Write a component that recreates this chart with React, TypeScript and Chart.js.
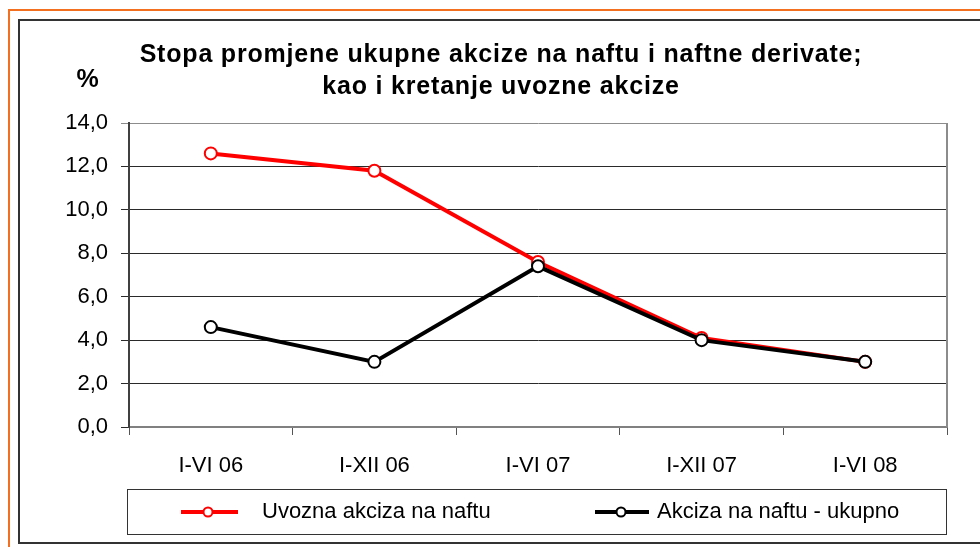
import React, { useEffect, useRef } from 'react';
import { Chart, registerables } from 'chart.js';

Chart.register(...registerables);

const categories = ['I-VI 06', 'I-XII 06', 'I-VI 07', 'I-XII 07', 'I-VI 08'];
const uvoznaAkciza = [12.6, 11.8, 7.6, 4.1, 3.0];
const akcizaUkupno = [4.6, 3.0, 7.4, 4.0, 3.0];
const seriesNames = ['Uvozna akciza na naftu', 'Akciza na naftu - ukupno'];
const titleLines = [
  'Stopa promjene ukupne akcize na naftu i naftne derivate;',
  'kao i kretanje uvozne akcize',
];
const yUnit = '%';
const yMin = 0;
const yMax = 14;
const yStep = 2;

const FONT = '"Liberation Sans", Arial, sans-serif';

const legendPos = [
  { lineStart: 181, lineEnd: 238, circle: 208, text: 262 },
  { lineStart: 595, lineEnd: 649, circle: 621, text: 657 },
];

const decorPlugin = {
  id: 'decor',
  beforeDraw(chart: any) {
    const ctx = chart.ctx;
    const W = chart.width;
    const H = chart.height;
    ctx.save();
    ctx.fillStyle = '#ffffff';
    ctx.fillRect(0, 0, W, H);
    ctx.fillStyle = '#f37021';
    ctx.fillRect(8, 9, W - 8, 2);
    ctx.fillRect(8, 9, 2, H - 9);
    ctx.fillStyle = '#333333';
    ctx.fillRect(18, 19, W - 18, 2);
    ctx.fillRect(18, 19, 2, 525);
    ctx.fillRect(18, 542, W - 18, 2);
    ctx.restore();
  },
  afterDraw(chart: any) {
    const ctx = chart.ctx;
    const a = chart.chartArea;
    ctx.save();
    // right frame of plot area
    ctx.strokeStyle = '#8c8c8c';
    ctx.lineWidth = 2;
    ctx.beginPath();
    ctx.moveTo(a.right, a.top);
    ctx.lineTo(a.right, a.bottom);
    ctx.stroke();

    // title
    ctx.fillStyle = '#000000';
    ctx.font = `bold 25px ${FONT}`;
    ctx.textAlign = 'center';
    ctx.textBaseline = 'middle';
    (ctx as any).letterSpacing = '0.8px';
    titleLines.forEach((t, i) => ctx.fillText(t, 501, 55 + i * 32));
    ctx.fillText(yUnit, 88, 80);
    (ctx as any).letterSpacing = '0px';

    // legend
    ctx.strokeStyle = '#333333';
    ctx.lineWidth = 1;
    ctx.strokeRect(127.5, 489.5, 819, 45);
    const ly = 512;
    chart.data.datasets.forEach((ds: any, i: number) => {
      const p = legendPos[i];
      ctx.strokeStyle = ds.borderColor;
      ctx.lineWidth = 4;
      ctx.beginPath();
      ctx.moveTo(p.lineStart, ly);
      ctx.lineTo(p.lineEnd, ly);
      ctx.stroke();
      ctx.beginPath();
      ctx.arc(p.circle, ly, 4.5, 0, Math.PI * 2);
      ctx.fillStyle = '#ffffff';
      ctx.fill();
      ctx.lineWidth = 2;
      ctx.stroke();
      ctx.fillStyle = '#000000';
      ctx.font = `22px ${FONT}`;
      ctx.textAlign = 'left';
      ctx.textBaseline = 'middle';
      ctx.fillText(ds.label, p.text, ly);
    });
    ctx.restore();
  },
};

export default function App() {
  const ref = useRef<HTMLCanvasElement | null>(null);
  useEffect(() => {
    if (!ref.current) return;
    const chart = new Chart(ref.current, {
      type: 'line',
      data: {
        labels: categories,
        datasets: [
          {
            label: seriesNames[0],
            data: uvoznaAkciza,
            borderColor: '#ff0000',
            backgroundColor: '#ffffff',
            pointBackgroundColor: '#ffffff',
            pointBorderColor: '#ff0000',
            borderWidth: 4,
            pointRadius: 6,
            pointBorderWidth: 2,
            tension: 0,
            order: 2,
          },
          {
            label: seriesNames[1],
            data: akcizaUkupno,
            borderColor: '#000000',
            backgroundColor: '#ffffff',
            pointBackgroundColor: '#ffffff',
            pointBorderColor: '#000000',
            borderWidth: 4,
            pointRadius: 6,
            pointBorderWidth: 2,
            tension: 0,
            order: 1,
          },
        ],
      },
      options: {
        responsive: false,
        animation: false,
        devicePixelRatio: 1,
        layout: { padding: { left: 0, right: 33, top: 123, bottom: 0 } },
        plugins: {
          legend: { display: false },
          title: { display: false },
          tooltip: { enabled: false },
        },
        scales: {
          x: {
            offset: true,
            afterFit: (s: any) => { s.height = 120; },
            grid: {
              offset: true,
              drawOnChartArea: false,
              drawTicks: true,
              tickLength: 8,
              color: '#555555',
              lineWidth: 1,
            },
            border: { display: true, color: '#808080', width: 2 },
            ticks: {
              color: '#000000',
              font: { family: FONT, size: 22 },
              padding: 18,
              maxRotation: 0,
              autoSkip: false,
            },
          },
          y: {
            min: yMin,
            max: yMax,
            afterFit: (s: any) => { s.width = 129; },
            grid: {
              color: (c: any) => (c.tick && c.tick.value === yMax ? '#8c8c8c' : '#2a2a2a'),
              lineWidth: 1,
              drawTicks: true,
              tickLength: 8,
            },
            border: { display: true, color: '#404040', width: 2 },
            ticks: {
              stepSize: yStep,
              color: '#000000',
              font: { family: FONT, size: 22 },
              padding: 13,
              callback: (v: any) => Number(v).toFixed(1).replace('.', ','),
            },
          },
        },
      },
      plugins: [decorPlugin],
    } as any);
    return () => chart.destroy();
  }, []);
  return (
    <canvas
      ref={ref}
      width={980}
      height={547}
      style={{ position: 'absolute', left: 0, top: 0, width: 980, height: 547, display: 'block' }}
    />
  );
}
